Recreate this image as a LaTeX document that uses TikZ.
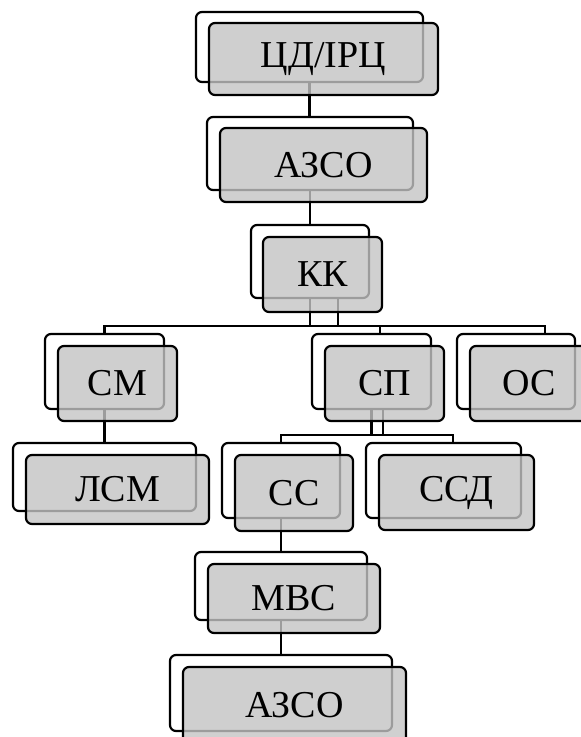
\documentclass[tikz,border=0pt]{standalone}
\usepackage{fontspec}
\setmainfont{Liberation Serif}
\usepackage{tikz}

\definecolor{boxgray}{RGB}{196,196,196}
\tikzset{
  backbox/.style={draw, line width=2.2pt, rounded corners=6pt, fill=white, inner sep=0pt},
  frontbox/.style={draw, line width=2.2pt, rounded corners=6pt, fill=boxgray, fill opacity=0.8,
                   draw opacity=1, text opacity=1, inner sep=0pt,
                   font=\fontsize{38}{42}\selectfont},
  link/.style={line width=2.2pt}
}

\begin{document}
\begin{tikzpicture}[x=1pt, y=-1pt]
  \clip (0,0) rectangle (581,737);

  % back frames
  \node[backbox, minimum width=227, minimum height=70] (cdb)   at (309.5,47)  {};
  \node[backbox, minimum width=206, minimum height=73] (azab)  at (310,153.5) {};
  \node[backbox, minimum width=118, minimum height=73] (kkb)   at (310,261.5) {};
  \node[backbox, minimum width=119, minimum height=75] (cmb)   at (104.5,371.5) {};
  \node[backbox, minimum width=119, minimum height=75] (spb)   at (371.5,371.5) {};
  \node[backbox, minimum width=118, minimum height=75] (osb)   at (516,371.5) {};
  \node[backbox, minimum width=183, minimum height=68] (lsmb)  at (104.5,477) {};
  \node[backbox, minimum width=118, minimum height=75] (ccb)   at (281,480.5) {};
  \node[backbox, minimum width=155, minimum height=75] (ssdb)  at (443.5,480.5) {};
  \node[backbox, minimum width=172, minimum height=68] (mvsb)  at (281,586) {};
  \node[backbox, minimum width=222, minimum height=76] (azbb)  at (281,693) {};

  % bus lines
  \coordinate (bustop) at (0,326);
  \coordinate (busmid) at (0,435);
  \coordinate (kkx) at (338,0);
  \coordinate (spx) at (383,0);

  \draw[link] (cdb.south) -- (cdb.south |- azab.north);
  \draw[link] (azab.south) -- (azab.south |- kkb.north);
  \draw[link] (kkb.south) -- (kkb.south |- bustop);
  \draw[link] (kkx |- kkb.south) -- (kkx |- bustop);
  \draw[link] (cmb.north) |- ([xshift=29]osb.north |- bustop) -- ([xshift=29]osb.north);
  \draw[link] ([xshift=8.5]spb.north |- bustop) -- ([xshift=8.5]spb.north);
  \draw[link] (cmb.south) -- (cmb.south |- lsmb.north);
  \draw[link] (spb.south) -- (spb.south |- busmid);
  \draw[link] (spx |- spb.south) -- (spx |- busmid);
  \draw[link] (ccb.north) |- ([xshift=9.5]ssdb.north |- busmid) -- ([xshift=9.5]ssdb.north);
  \draw[link] (ccb.south) -- (ccb.south |- mvsb.north);
  \draw[link] (mvsb.south) -- (mvsb.south |- azbb.north);

  % front boxes
  \node[frontbox, minimum width=229, minimum height=72] (cd)   at (323.5,59)    {ЦД/ІРЦ};
  \node[frontbox, minimum width=207, minimum height=74] (aza)  at (323.5,165)   {АЗСО};
  \node[frontbox, minimum width=119, minimum height=75] (kk)   at (322.5,274.5) {КК};
  \node[frontbox, minimum width=119, minimum height=75] (cm)   at (117.5,383.5) {СМ};
  \node[frontbox, minimum width=119, minimum height=75] (sp)   at (384.5,383.5) {СП};
  \node[frontbox, minimum width=119, minimum height=75] (os)   at (529.5,383.5) {ОС};
  \node[frontbox, minimum width=183, minimum height=69] (lsm)  at (117.5,489.5) {ЛСМ};
  \node[frontbox, minimum width=118, minimum height=76] (cc)   at (294,493)     {СС};
  \node[frontbox, minimum width=155, minimum height=75] (ssd)  at (456.5,492.5) {ССД};
  \node[frontbox, minimum width=172, minimum height=69] (mvs)  at (294,598.5)   {МВС};
  \node[frontbox, minimum width=223, minimum height=76] (azb)  at (294.5,705)   {АЗСО};
\end{tikzpicture}
\end{document}
